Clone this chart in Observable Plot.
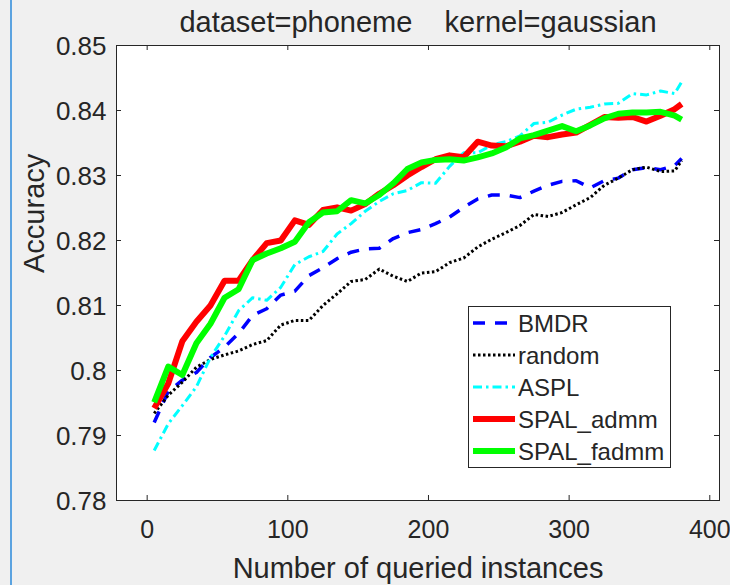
<!DOCTYPE html>
<html><head><meta charset="utf-8">
<script src="https://cdn.jsdelivr.net/npm/d3@7"></script>
<script src="https://cdn.jsdelivr.net/npm/@observablehq/plot@0.6"></script>
<style>
html,body{margin:0;padding:0;background:#f0f0f0;}
#wrap{position:relative;width:730px;height:585px;overflow:hidden;background:#f0f0f0;}
#chart{position:absolute;left:0;top:0;}
#edge{position:absolute;left:10px;top:0;width:2px;height:585px;background:#5ba3e0;}
#legend{position:absolute;left:468px;top:306px;}
</style></head><body>
<div id="wrap"><div id="chart"></div><div id="edge"></div><svg id="legend" width="203" height="162"></svg></div>
<script>
// ---- data ----
const titleText = "dataset=phoneme    kernel=gaussian";
const xLabel = "Number of queried instances";
const yLabel = "Accuracy";
const xTicks = [0, 100, 200, 300, 400];
const xTickLabels = ["0", "100", "200", "300", "400"];
const yTicks = [0.78, 0.79, 0.8, 0.81, 0.82, 0.83, 0.84, 0.85];
const yTickLabels = ["0.78", "0.79", "0.8", "0.81", "0.82", "0.83", "0.84", "0.85"];
const seriesNames = ["BMDR", "random", "ASPL", "SPAL_admm", "SPAL_fadmm"];

const queried = [5,15,25,35,45,55,65,75,85,95,105,115,125,135,145,155,165,175,185,195,205,215,225,235,245,255,265,275,285,295,305,315,325,335,345,355,365,375,380];

const bmdr = [0.7920,0.7968,0.7985,0.7997,0.8020,0.8036,0.8057,0.8085,0.8095,0.8116,0.8122,0.8146,0.8158,0.8172,0.8182,0.8187,0.8188,0.8203,0.8212,0.8217,0.8226,0.8236,0.8251,0.8264,0.8270,0.8270,0.8266,0.8276,0.8285,0.8291,0.8292,0.8281,0.8292,0.8296,0.8309,0.8312,0.8309,0.8315,0.8326];
const random = [0.7934,0.7962,0.7982,0.8005,0.8017,0.8024,0.8030,0.8040,0.8046,0.8070,0.8077,0.8077,0.8100,0.8118,0.8137,0.8140,0.8156,0.8145,0.8137,0.8150,0.8152,0.8166,0.8173,0.8190,0.8202,0.8212,0.8223,0.8240,0.8237,0.8243,0.8255,0.8266,0.8285,0.8296,0.8309,0.8313,0.8306,0.8307,0.8323];
const aspl = [0.7877,0.7918,0.7946,0.7975,0.8020,0.8053,0.8092,0.8112,0.8108,0.8128,0.8163,0.8175,0.8183,0.8210,0.8226,0.8245,0.8260,0.8272,0.8277,0.8289,0.8288,0.8314,0.8335,0.8335,0.8347,0.8352,0.8361,0.8380,0.8382,0.8393,0.8402,0.8405,0.8410,0.8411,0.8426,0.8424,0.8430,0.8426,0.8444];
const spalAdmm = [0.7942,0.7980,0.8045,0.8075,0.8100,0.8138,0.8138,0.8170,0.8196,0.8200,0.8231,0.8224,0.8247,0.8251,0.8246,0.8256,0.8272,0.8285,0.8300,0.8313,0.8325,0.8331,0.8328,0.8352,0.8346,0.8345,0.8352,0.8361,0.8359,0.8363,0.8366,0.8378,0.8390,0.8389,0.8390,0.8383,0.8392,0.8402,0.8410];
const spalFadmm = [0.7951,0.8006,0.7993,0.8042,0.8072,0.8112,0.8125,0.8170,0.8180,0.8188,0.8198,0.8228,0.8243,0.8245,0.8262,0.8257,0.8270,0.8288,0.8310,0.8320,0.8324,0.8325,0.8323,0.8328,0.8334,0.8343,0.8357,0.8362,0.8369,0.8376,0.8368,0.8377,0.8388,0.8395,0.8397,0.8397,0.8398,0.8392,0.8386];

const seriesValues = [bmdr, random, aspl, spalAdmm, spalFadmm];

// ---- styles ----
const ink = "#262626";
const font = '"Liberation Sans", Arial, Helvetica, sans-serif';
const styles = {
  BMDR: {stroke: "#0000ff", strokeWidth: 3.5, strokeDasharray: "12,10", strokeLinecap: "butt"},
  random: {stroke: "#000000", strokeWidth: 3, strokeDasharray: "2.5,2.5", strokeLinecap: "butt"},
  ASPL: {stroke: "#00ffff", strokeWidth: 3, strokeDasharray: "9,4,2.5,4", strokeLinecap: "butt"},
  SPAL_admm: {stroke: "#ff0000", strokeWidth: 6, strokeLinecap: "butt"},
  SPAL_fadmm: {stroke: "#00ff00", strokeWidth: 6, strokeLinecap: "butt"}
};

const rows = [];
seriesNames.forEach((name, s) => {
  queried.forEach((q, i) => rows.push({series: name, x: q, y: seriesValues[s][i]}));
});

const W = 730, H = 585, mL = 116, mR = 11, mT = 45, mB = 85;
const innerW = W - mL - mR, innerH = H - mT - mB;

const lineMarks = seriesNames.map(name =>
  Plot.line(rows.filter(r => r.series === name), {x: "x", y: "y", strokeLinejoin: "round", ...styles[name]})
);

const chart = Plot.plot({
  width: W, height: H,
  marginLeft: mL, marginRight: mR, marginTop: mT, marginBottom: mB,
  style: {background: "transparent", fontFamily: font, color: ink, fontSize: "26px", overflow: "visible"},
  x: {domain: [-21.8, 406.9]},
  y: {domain: [0.78, 0.85]},
  marks: [
    Plot.frame({fill: "white", stroke: null}),
    ...lineMarks,
    Plot.tickX(xTicks, {x: d => d, insetTop: innerH - 5, stroke: ink}),
    Plot.tickX(xTicks, {x: d => d, insetBottom: innerH - 5, stroke: ink}),
    Plot.tickY(yTicks, {y: d => d, insetRight: innerW - 5, stroke: ink}),
    Plot.tickY(yTicks, {y: d => d, insetLeft: innerW - 5, stroke: ink}),
    Plot.frame({stroke: ink, strokeWidth: 1}),
    Plot.axisX(xTicks, {anchor: "bottom", tickSize: 0, tickPadding: 20, fontSize: 25, label: null,
      tickFormat: d => xTickLabels[xTicks.indexOf(d)]}),
    Plot.axisY(yTicks, {anchor: "left", tickSize: 0, tickPadding: 10, fontSize: 26, label: null, dy: 1,
      tickFormat: d => yTickLabels[yTicks.indexOf(d)]}),
    Plot.text([titleText], {text: d => d, frameAnchor: "top", lineAnchor: "bottom", dy: -13.5, fontSize: 29, fill: ink}),
    Plot.text([xLabel], {text: d => d, frameAnchor: "bottom", lineAnchor: "bottom", dy: 77, fontSize: 29, fill: ink}),
    Plot.text([yLabel], {text: d => d, frameAnchor: "left", rotate: -90, lineAnchor: "bottom", dx: -73, fontSize: 29, fill: ink})
  ]
});
document.getElementById("chart").append(chart);
// preserve spaces in title
d3.select(chart).selectAll("text").attr("xml:space", "preserve").style("white-space", "pre");

// ---- legend ----
const lg = d3.select("#legend");
lg.append("rect").attr("x", 0.5).attr("y", 0.5).attr("width", 202).attr("height", 161)
  .attr("fill", "white").attr("stroke", ink).attr("stroke-width", 1);
seriesNames.forEach((name, i) => {
  const y = 17 + i * 32;
  const st = styles[name];
  lg.append("line").attr("x1", 5).attr("x2", 47).attr("y1", y).attr("y2", y)
    .attr("stroke", st.stroke).attr("stroke-width", st.strokeWidth)
    .attr("stroke-dasharray", st.strokeDasharray || null).attr("stroke-linecap", "butt");
  lg.append("text").attr("x", 50).attr("y", y + 9).text(name)
    .attr("font-family", font).attr("font-size", 24).attr("fill", ink);
});
</script></body></html>
